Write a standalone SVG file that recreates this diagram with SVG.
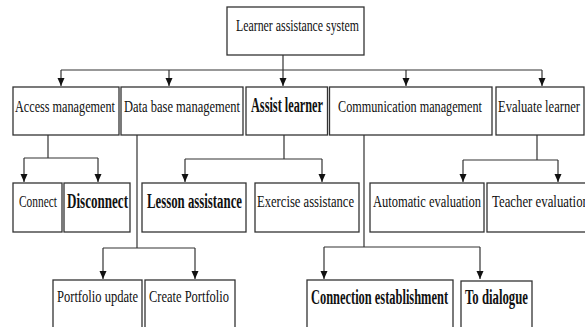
<svg xmlns="http://www.w3.org/2000/svg" width="585" height="327" viewBox="0 0 585 327">
<defs>
<marker id="arr" markerUnits="userSpaceOnUse" markerWidth="8" markerHeight="8" refX="8" refY="3.5" orient="auto">
<path d="M0,0 L8,3.5 L0,7 z" fill="#111"/>
</marker>
<style>
.box{fill:#fff;stroke:#333;stroke-width:1.3}
.t{font-family:"Liberation Serif","Times New Roman",serif;font-size:17px;fill:#111}
.b{font-family:"Liberation Serif","Times New Roman",serif;font-size:20px;font-weight:bold;fill:#111}
.c{fill:none;stroke:#333;stroke-width:1.2}
.a{fill:none;stroke:#333;stroke-width:1.2;marker-end:url(#arr)}
</style>
</defs>
<rect width="585" height="327" fill="#fff"/>
<g id="connectors">
<path class="a" d="M283,55 V86"/>
<path class="c" d="M61,70 H542"/>
<path class="a" d="M61,70 V86"/>
<path class="a" d="M169,70 V86"/>
<path class="a" d="M406,70 V86"/>
<path class="a" d="M542,70 V86"/>
<path class="c" d="M48,135 V158 M24,158 H98"/>
<path class="a" d="M24,158 V182"/>
<path class="a" d="M98,158 V182"/>
<path class="c" d="M284,135 V159 M185,159 H322"/>
<path class="a" d="M185,159 V182"/>
<path class="a" d="M322,159 V182"/>
<path class="c" d="M537,135 V160 M463,160 H558"/>
<path class="a" d="M463,160 V182"/>
<path class="a" d="M558,160 V182"/>
<path class="c" d="M137,135 V248 M103,248 H195"/>
<path class="a" d="M103,248 V279"/>
<path class="a" d="M195,248 V279"/>
<path class="c" d="M364,135 V247 M324,247 H480"/>
<path class="a" d="M324,247 V279"/>
<path class="a" d="M480,247 V279"/>
</g>
<g id="root"><rect class="box" x="227" y="7" width="137" height="48"/><text class="t" transform="translate(236,31) scale(0.71,1)" textLength="173.2" lengthAdjust="spacingAndGlyphs">Learner assistance system</text></g>
<g id="access"><rect class="box" x="13" y="87" width="106" height="48"/><text class="t" transform="translate(15,112) scale(0.71,1)" textLength="140.8" lengthAdjust="spacingAndGlyphs">Access management</text></g>
<g id="database"><rect class="box" x="121" y="87" width="122" height="48"/><text class="t" transform="translate(124,112) scale(0.71,1)" textLength="163.4" lengthAdjust="spacingAndGlyphs">Data base management</text></g>
<g id="assist"><rect class="box" x="246" y="87" width="81.5" height="48"/><text class="b" transform="translate(251,112) scale(0.63,1)" textLength="114.3" lengthAdjust="spacingAndGlyphs">Assist learner</text></g>
<g id="communication"><rect class="box" x="329.5" y="87" width="162.5" height="48"/><text class="t" transform="translate(338,112) scale(0.71,1)" textLength="202.8" lengthAdjust="spacingAndGlyphs">Communication management</text></g>
<g id="evaluate"><rect class="box" x="496" y="87" width="88" height="48"/><text class="t" transform="translate(498,112) scale(0.71,1)" textLength="115.5" lengthAdjust="spacingAndGlyphs">Evaluate learner</text></g>
<g id="connect"><rect class="box" x="13" y="183" width="49" height="49"/><text class="t" transform="translate(19,207) scale(0.71,1)" textLength="53.5" lengthAdjust="spacingAndGlyphs">Connect</text></g>
<g id="disconnect"><rect class="box" x="64" y="183" width="66" height="49"/><text class="b" transform="translate(67,208) scale(0.63,1)" textLength="96.8" lengthAdjust="spacingAndGlyphs">Disconnect</text></g>
<g id="lesson"><rect class="box" x="142" y="183" width="104" height="49"/><text class="b" transform="translate(147,208) scale(0.63,1)" textLength="150.8" lengthAdjust="spacingAndGlyphs">Lesson assistance</text></g>
<g id="exercise"><rect class="box" x="255" y="183" width="104" height="49"/><text class="t" transform="translate(257,207) scale(0.71,1)" textLength="136.6" lengthAdjust="spacingAndGlyphs">Exercise assistance</text></g>
<g id="automatic"><rect class="box" x="370" y="183" width="114" height="49"/><text class="t" transform="translate(373,207) scale(0.71,1)" textLength="152.1" lengthAdjust="spacingAndGlyphs">Automatic evaluation</text></g>
<g id="teacher"><rect class="box" x="487" y="183" width="113" height="49"/><text class="t" transform="translate(492,207) scale(0.71,1)" textLength="136.6" lengthAdjust="spacingAndGlyphs">Teacher evaluation</text></g>
<g id="portfolio-update"><rect class="box" x="53" y="280" width="89" height="60"/><text class="t" transform="translate(57,302) scale(0.71,1)" textLength="114.1" lengthAdjust="spacingAndGlyphs">Portfolio update</text></g>
<g id="create-portfolio"><rect class="box" x="145" y="280" width="90" height="60"/><text class="t" transform="translate(149,302) scale(0.71,1)" textLength="112.7" lengthAdjust="spacingAndGlyphs">Create Portfolio</text></g>
<g id="connection"><rect class="box" x="307" y="280" width="146" height="60"/><text class="b" transform="translate(311,304) scale(0.63,1)" textLength="217.5" lengthAdjust="spacingAndGlyphs">Connection establishment</text></g>
<g id="dialogue"><rect class="box" x="461" y="281" width="71" height="60"/><text class="b" transform="translate(465,304) scale(0.63,1)" textLength="100" lengthAdjust="spacingAndGlyphs">To dialogue</text></g>
</svg>
